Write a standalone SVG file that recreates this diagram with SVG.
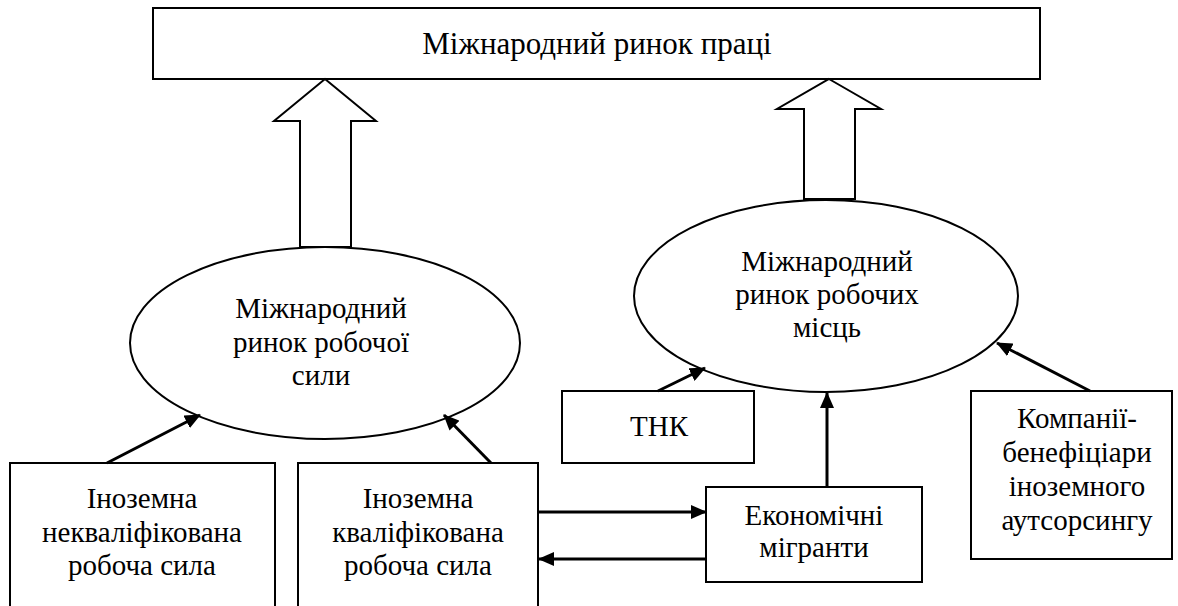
<svg xmlns="http://www.w3.org/2000/svg" width="1178" height="606" viewBox="0 0 1178 606">
<defs>
<marker id="ah" markerWidth="16" markerHeight="14" refX="15" refY="7" orient="auto" markerUnits="userSpaceOnUse">
<path d="M0,0 L16,7 L0,14 Z" fill="#000"/>
</marker>
<style>
.box{fill:#fff;stroke:#000;stroke-width:2}
.big{fill:#fff;stroke:#000;stroke-width:2;stroke-linejoin:miter}
.t{font-family:'Liberation Serif','Times New Roman',serif;font-size:29px;fill:#000;text-anchor:middle}
.c{stroke:#000;stroke-width:3;fill:none;marker-end:url(#ah)}
</style>
</defs>
<g id="top">
<rect class="box" x="153" y="8" width="887" height="71"/>
<text class="t" x="597" y="54" style="font-size:31px">Міжнародний ринок праці</text>
</g>
<g id="bigarrows">
<polygon class="big" points="325,79 376,121 351,121 351,247 300,247 300,121 274,121"/>
<polygon class="big" points="829,79 881,109 855,109 855,199 804,199 804,109 777,109"/>
</g>
<g id="ell-left">
<ellipse class="box" cx="325" cy="343" rx="195" ry="96"/>
<text class="t" x="321" y="318">Міжнародний</text>
<text class="t" x="321" y="352">ринок робочої</text>
<text class="t" x="321" y="385">сили</text>
</g>
<g id="ell-right">
<ellipse class="box" cx="826" cy="296" rx="192" ry="96"/>
<text class="t" x="827" y="271">Міжнародний</text>
<text class="t" x="827" y="304">ринок робочих</text>
<text class="t" x="827" y="337">місць</text>
</g>
<g id="box1">
<rect class="box" x="10" y="463" width="265" height="160"/>
<text class="t" x="142" y="508">Іноземна</text>
<text class="t" x="142" y="542">некваліфікована</text>
<text class="t" x="142" y="575">робоча сила</text>
</g>
<g id="box2">
<rect class="box" x="298" y="463" width="240" height="160"/>
<text class="t" x="418" y="508">Іноземна</text>
<text class="t" x="418" y="542">кваліфікована</text>
<text class="t" x="418" y="575">робоча сила</text>
</g>
<g id="tnk">
<rect class="box" x="562" y="391" width="192" height="72"/>
<text class="t" x="659" y="436">ТНК</text>
</g>
<g id="migr">
<rect class="box" x="706" y="487" width="216" height="95"/>
<text class="t" x="814" y="525">Економічні</text>
<text class="t" x="814" y="557">мігранти</text>
</g>
<g id="comp">
<rect class="box" x="971" y="391" width="201" height="168"/>
<text class="t" x="1077" y="428">Компанії-</text>
<text class="t" x="1077" y="462">бенефіціари</text>
<text class="t" x="1077" y="496">іноземного</text>
<text class="t" x="1077" y="530">аутсорсингу</text>
</g>
<g id="connectors">
<line class="c" x1="107" y1="463" x2="200" y2="415"/>
<line class="c" x1="491" y1="463" x2="444" y2="415"/>
<line class="c" x1="658" y1="391" x2="705" y2="368"/>
<line class="c" x1="827" y1="487" x2="827" y2="393"/>
<line class="c" x1="1090" y1="391" x2="997" y2="343"/>
<line class="c" x1="538" y1="512" x2="706" y2="512"/>
<line class="c" x1="706" y1="559" x2="539" y2="559"/>
</g>
</svg>
